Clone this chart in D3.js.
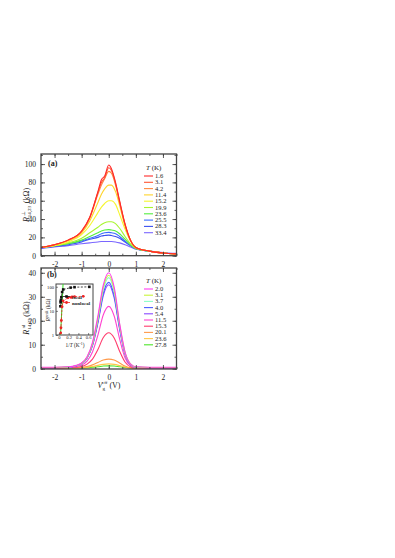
<!DOCTYPE html>
<html>
<head>
<meta charset="utf-8">
<script src="https://cdn.jsdelivr.net/npm/d3@7"></script>
<style>
  body { margin: 0; background: #fff; }
  text { font-family: "Liberation Serif", "DejaVu Serif", serif; fill: #222; }
</style>
</head>
<body>
<script>
// canvas size
var w = 395;
var h = 558;

// ---- panel (a) data: local resistance vs gate voltage ----
var vgA = [-2.5, -2, -1.5, -1, -0.7, -0.4, -0.27, -0.15, 0, 0.1, 0.25, 0.4, 0.6, 0.8, 1, 1.5, 2, 2.5];
var tempsA = ["1.6", "3.1", "4.2", "11.4", "15.2", "19.9", "23.6", "25.5", "28.3", "33.4"];
var colorsA = ["#ff2a2a", "#ff5533", "#ff8a40", "#ffd42a", "#f5f530", "#a8f530", "#55ee40", "#3a6cff", "#3a50f0", "#7a66ff"];
var rA_1_6  = [9, 12, 17, 27, 42, 70, 83, 87, 99, 95, 80, 60, 35, 17, 9, 5, 3, 2];
var rA_3_1  = [9, 12, 17, 27, 42, 69, 80, 85, 96, 93, 79, 59, 34, 17, 9, 5, 3, 2];
var rA_4_2  = [9, 12, 17, 26, 41, 67, 77, 84, 92, 90, 77, 58, 34, 17, 9, 5, 3, 2];
var rA_11_4 = [9, 12, 16, 25, 38, 58, 67, 73, 77, 77, 70, 55, 32, 17, 9, 5, 3, 2];
var rA_15_2 = [9, 11, 15, 23, 33, 47, 53, 57, 60, 60, 56, 45, 29, 16, 9, 5, 3, 2];
var rA_19_9 = [9, 11, 14, 19, 25, 31, 34, 36, 37, 37, 35, 30, 21, 13, 8, 5, 3, 2];
var rA_23_6 = [9, 11, 13, 17, 21, 25, 27, 28, 28.5, 28, 27, 24, 18, 12, 8, 5, 3, 2];
var rA_25_5 = [8.5, 10.5, 13, 16, 19, 22, 24, 25, 25.5, 25, 24, 21, 16, 11, 8, 5, 3, 2];
var rA_28_3 = [8.5, 10, 12, 15, 18, 20, 21.5, 22, 22.5, 22, 21, 19, 15, 11, 7.5, 5, 3, 2];
var rA_33_4 = [8, 9.5, 11, 13, 14, 15, 15.5, 15.5, 15.5, 15.5, 15, 14, 12, 9.5, 7, 5, 3.5, 2.5];
var seriesA = [rA_1_6, rA_3_1, rA_4_2, rA_11_4, rA_15_2, rA_19_9, rA_23_6, rA_25_5, rA_28_3, rA_33_4];

// ---- panel (b) data: nonlocal resistance vs gate voltage ----
var vgB = [-2.5, -2, -1.5, -1.2, -1, -0.8, -0.6, -0.4, -0.2, 0, 0.2, 0.4, 0.6, 0.8, 1, 1.5, 2, 2.5];
var tempsB = ["2.0", "3.1", "3.7", "4.0", "5.4", "11.5", "15.3", "20.1", "23.6", "27.8"];
var colorsB = ["#ff3cf0", "#c8f53a", "#8cffc8", "#4a5cff", "#8a48ff", "#ff44d0", "#ff3c6e", "#ff9a4a", "#ffc84a", "#4ee62a"];
var rB_2_0  = [0.6, 0.6, 0.8, 1.4, 2.4, 5, 11, 22, 35, 40, 34, 19, 7, 2, 0.8, 0.6, 0.6, 0.6];
var rB_3_1  = [0.5, 0.5, 0.7, 1.3, 2.3, 4.8, 10.5, 21, 34, 39, 33, 18.5, 6.8, 2, 0.7, 0.5, 0.5, 0.5];
var rB_3_7  = [0.5, 0.5, 0.7, 1.3, 2.2, 4.7, 10.3, 20.5, 33, 38, 32, 18, 6.6, 1.9, 0.7, 0.5, 0.5, 0.5];
var rB_4_0  = [0.4, 0.4, 0.6, 1.2, 2.1, 4.5, 9.8, 19.5, 31.5, 36, 30.5, 17, 6.3, 1.8, 0.6, 0.4, 0.4, 0.4];
var rB_5_4  = [0.4, 0.4, 0.6, 1.2, 2, 4.4, 9.5, 19, 30.5, 35, 29.5, 16.5, 6.1, 1.7, 0.6, 0.4, 0.4, 0.4];
var rB_11_5 = [0.3, 0.3, 0.5, 0.9, 1.5, 3.2, 7, 14, 22.5, 26, 22, 12.5, 4.6, 1.3, 0.4, 0.3, 0.3, 0.3];
var rB_15_3 = [0.3, 0.3, 0.4, 0.6, 0.9, 1.9, 4, 8, 13, 15, 12.8, 7.3, 2.8, 0.8, 0.3, 0.3, 0.3, 0.3];
var rB_20_1 = [0.3, 0.3, 0.3, 0.4, 0.5, 0.9, 1.6, 2.6, 3.6, 4, 3.6, 2.4, 1.1, 0.4, 0.3, 0.3, 0.3, 0.3];
var rB_23_6 = [0.2, 0.2, 0.3, 0.3, 0.4, 0.6, 0.9, 1.4, 1.8, 2, 1.8, 1.3, 0.7, 0.3, 0.2, 0.2, 0.2, 0.2];
var rB_27_8 = [0.2, 0.2, 0.2, 0.3, 0.3, 0.4, 0.6, 0.8, 1.1, 1.2, 1.1, 0.8, 0.5, 0.3, 0.2, 0.2, 0.2, 0.2];
var seriesB = [rB_2_0, rB_3_1, rB_3_7, rB_4_0, rB_5_4, rB_11_5, rB_15_3, rB_20_1, rB_23_6, rB_27_8];

// ---- inset data: peak resistance vs 1/T (log scale) ----
var localInvT = [0.030, 0.035, 0.039, 0.042, 0.050, 0.066, 0.088, 0.24, 0.32, 0.625];
var localR = [15.5, 22.5, 25.5, 28.5, 37, 60, 77, 92, 96, 99];
var nonlocalInvT = [0.036, 0.042, 0.050, 0.065, 0.087, 0.185, 0.25, 0.27, 0.32, 0.50];
var nonlocalR = [1.2, 2, 4, 15, 26, 35, 36, 38, 39, 40];
var fitInvT = [0.034, 0.085];
var fitR = [1, 130];

// axis tick values
var xTicks = [-2, -1, 0, 1, 2];
var yTicksA = [0, 20, 40, 60, 80, 100];
var yTicksB = [0, 10, 20, 30, 40];

// frame positions (magic numbers)
var frameLeft = 41;
var frameRight = 176.5;
var aTop = 154, aBottom = 255.7;
var bTop = 268, bBottom = 369;

var svg = d3.select("body").append("svg")
    .attr("width", w)
    .attr("height", h);

var x = d3.scaleLinear().domain([-2.5, 2.5]).range([frameLeft, frameRight]);
var yA = d3.scaleLinear().domain([0, 111]).range([aBottom, aTop]);
var yB = d3.scaleLinear().domain([-0.12, 42]).range([bBottom, bTop]);

// draws the frame, ticks on all sides, labels
function drawFrame(y, top, bottom, yTicks, yMinor) {
    var g = svg.append("g");
    // minor ticks
    g.append("g").attr("transform", "translate(0," + bottom + ")")
        .call(d3.axisBottom(x).tickValues(d3.range(-2.5, 2.51, 0.5)).tickSize(-2).tickFormat(""));
    g.append("g").attr("transform", "translate(0," + top + ")")
        .call(d3.axisTop(x).tickValues(d3.range(-2.5, 2.51, 0.5)).tickSize(-2).tickFormat(""));
    g.append("g").attr("transform", "translate(" + frameLeft + ",0)")
        .call(d3.axisLeft(y).tickValues(yMinor).tickSize(-2).tickFormat(""));
    g.append("g").attr("transform", "translate(" + frameRight + ",0)")
        .call(d3.axisRight(y).tickValues(yMinor).tickSize(-2).tickFormat(""));
    // major ticks
    g.append("g").attr("class", "xax").attr("transform", "translate(0," + bottom + ")")
        .call(d3.axisBottom(x).tickValues(xTicks).tickSize(-4).tickPadding(6)
            .tickFormat(function(d) { return d < 0 ? "-" + (-d) : d; }));
    g.append("g").attr("transform", "translate(0," + top + ")")
        .call(d3.axisTop(x).tickValues(xTicks).tickSize(-4).tickFormat(""));
    g.append("g").attr("class", "yax").attr("transform", "translate(" + frameLeft + ",0)")
        .call(d3.axisLeft(y).tickValues(yTicks).tickSize(-4).tickPadding(5));
    g.append("g").attr("transform", "translate(" + frameRight + ",0)")
        .call(d3.axisRight(y).tickValues(yTicks).tickSize(-4).tickFormat(""));
    g.selectAll(".domain").remove();
    g.selectAll("line").attr("stroke", "#333").attr("stroke-width", 0.8);
    g.selectAll("text").attr("font-size", 7.5).attr("font-family", "Liberation Serif").style("fill", "#222");
    // outer box
    svg.append("rect")
        .attr("x", frameLeft).attr("y", top)
        .attr("width", frameRight - frameLeft).attr("height", bottom - top)
        .attr("fill", "none").attr("stroke", "#444").attr("stroke-width", 1.3);
}

// clip paths so curves stay inside frames
var defs = svg.append("defs");
defs.append("clipPath").attr("id", "clipA").append("rect")
    .attr("x", frameLeft).attr("y", aTop).attr("width", frameRight - frameLeft).attr("height", aBottom - aTop);
defs.append("clipPath").attr("id", "clipB").append("rect")
    .attr("x", frameLeft).attr("y", bTop).attr("width", frameRight - frameLeft).attr("height", bBottom - bTop);

// panel (a) curves, highest T drawn first
var lineA = d3.line().curve(d3.curveMonotoneX)
    .x(function(d, i) { return x(vgA[i]); })
    .y(function(d) { return yA(d); });
svg.append("g").attr("clip-path", "url(#clipA)")
    .selectAll("path")
    .data(seriesA.slice().reverse())
    .enter()
    .append("path")
    .attr("d", lineA)
    .attr("fill", "none")
    .attr("stroke-width", 1.1)
    .attr("stroke", function(d, i) { return colorsA[colorsA.length - 1 - i]; });

var lineB = d3.line().curve(d3.curveMonotoneX)
    .x(function(d, i) { return x(vgB[i]); })
    .y(function(d) { return yB(d); });
svg.append("g").attr("clip-path", "url(#clipB)")
    .selectAll("path")
    .data(seriesB.slice().reverse())
    .enter()
    .append("path")
    .attr("d", lineB)
    .attr("fill", "none")
    .attr("stroke-width", 1.1)
    .attr("stroke", function(d, i) { return colorsB[colorsB.length - 1 - i]; });

drawFrame(yA, aTop, aBottom, yTicksA, d3.range(0, 111, 10));
drawFrame(yB, bTop, bBottom, yTicksB, d3.range(0, 42, 5));

// panel tags
svg.append("text").attr("x", 48).attr("y", 166).attr("font-size", 8).attr("font-weight", "bold").text("(a)");
svg.append("text").attr("x", 47).attr("y", 277).attr("font-size", 8).attr("font-weight", "bold").text("(b)");

// legends
function drawLegend(temps, colors, top, step) {
    var lg = svg.append("g");
    var t = lg.append("text").attr("x", 146).attr("y", top).attr("font-size", 7);
    t.append("tspan").attr("font-style", "italic").text("T");
    t.append("tspan").text(" (K)");
    var rows = lg.selectAll("g.row").data(temps).enter().append("g")
        .attr("transform", function(d, i) { return "translate(0," + (top + 8 + i * step) + ")"; });
    rows.append("line").attr("x1", 144).attr("x2", 153).attr("y1", -2).attr("y2", -2)
        .attr("stroke-width", 1.1)
        .attr("stroke", function(d, i) { return colors[i]; });
    rows.append("text").attr("x", 155).attr("y", 0).attr("font-size", 6.5).text(function(d) { return d; });
}
drawLegend(tempsA, colorsA, 170, 6.3);
drawLegend(tempsB, colorsB, 283, 6.2);

// axis titles
function yTitle(cx, cy, sub, sup) {
    var t = svg.append("text")
        .attr("transform", "translate(" + cx + "," + cy + ") rotate(-90)")
        .attr("text-anchor", "middle").attr("font-size", 8);
    t.append("tspan").attr("font-style", "italic").text("R");
    t.append("tspan").attr("font-size", 5).attr("dy", 2).text(sub);
    t.append("tspan").attr("font-size", 5).attr("dx", -10).attr("dy", -6).text(sup);
    t.append("tspan").attr("dy", 4).attr("dx", 6).text(" (kΩ)");
}
yTitle(29, 205, "14,23", "⊥");
yTitle(29, 318, "14,23", "nl");

var xt = svg.append("text").attr("x", 109).attr("y", 388).attr("text-anchor", "middle").attr("font-size", 8);
xt.append("tspan").attr("font-style", "italic").text("V");
xt.append("tspan").attr("font-size", 5).attr("dy", 2).text("g");
xt.append("tspan").attr("font-size", 5).attr("dx", -3).attr("dy", -6).text("eff");
xt.append("tspan").attr("dy", 4).text(" (V)");

// ---- inset ----
var inL = 56, inR = 93, inT = 284, inB = 335;
var xi = d3.scaleLinear().domain([-0.06, 0.7]).range([inL, inR]);
var yi = d3.scaleLog().domain([1, 130]).range([inB, inT]);

svg.append("rect").attr("x", inL).attr("y", inT).attr("width", inR - inL).attr("height", inB - inT)
    .attr("fill", "#fff").attr("stroke", "#444").attr("stroke-width", 1);

defs.append("clipPath").attr("id", "clipI").append("rect")
    .attr("x", inL).attr("y", inT).attr("width", inR - inL).attr("height", inB - inT);
var ig = svg.append("g").attr("clip-path", "url(#clipI)");

// fit line
ig.append("path")
    .datum(fitInvT.map(function(d, i) { return [d, fitR[i]]; }))
    .attr("d", d3.line().x(function(d) { return xi(d[0]); }).y(function(d) { return yi(d[1]); }))
    .attr("stroke", "#33dd22").attr("stroke-width", 1).attr("fill", "none");

var localPts = localInvT.map(function(d, i) { return [d, localR[i]]; });
var nonlocalPts = nonlocalInvT.map(function(d, i) { return [d, nonlocalR[i]]; });
var iline = d3.line().x(function(d) { return xi(d[0]); }).y(function(d) { return yi(d[1]); });

ig.append("path").datum(localPts).attr("d", iline)
    .attr("stroke", "#111").attr("stroke-width", 0.8).attr("stroke-dasharray", "2,1.5").attr("fill", "none");
ig.append("path").datum(nonlocalPts).attr("d", iline)
    .attr("stroke", "#ee2222").attr("stroke-width", 0.8).attr("stroke-dasharray", "2,1.5").attr("fill", "none");
ig.selectAll("rect.loc").data(localPts).enter().append("rect").attr("class", "loc")
    .attr("x", function(d) { return xi(d[0]) - 1.3; })
    .attr("y", function(d) { return yi(d[1]) - 1.3; })
    .attr("width", 2.6).attr("height", 2.6).attr("fill", "#111");
ig.selectAll("circle.nl").data(nonlocalPts).enter().append("circle").attr("class", "nl")
    .attr("cx", function(d) { return xi(d[0]); })
    .attr("cy", function(d) { return yi(d[1]); })
    .attr("r", 1.4).attr("fill", "#ee2222");

// inset axes
var ia = svg.append("g");
ia.append("g").attr("transform", "translate(0," + inB + ")")
    .call(d3.axisBottom(xi).tickValues([0, 0.2, 0.4, 0.6]).tickSize(-2).tickPadding(1)
        .tickFormat(function(d) { return d === 0 ? "0" : d3.format(".1f")(d); }));
ia.append("g").attr("transform", "translate(" + inL + ",0)")
    .call(d3.axisLeft(yi).tickValues([1, 10, 100]).tickSize(-2).tickPadding(2).tickFormat(d3.format("d")));
ia.selectAll(".domain").remove();
ia.selectAll("line").attr("stroke", "#333").attr("stroke-width", 0.6);
ia.selectAll("text").attr("font-size", 4.6).attr("font-family", "Liberation Serif").style("fill", "#222");

var ixt = svg.append("text").attr("x", 75).attr("y", 346.5).attr("text-anchor", "middle").attr("font-size", 5.3);
ixt.append("tspan").text("1/");
ixt.append("tspan").attr("font-style", "italic").text("T");
ixt.append("tspan").text(" (K");
ixt.append("tspan").attr("font-size", 3.8).attr("dy", -1.8).text("-1");
ixt.append("tspan").attr("dy", 1.8).text(")");

var iyt = svg.append("text").attr("transform", "translate(50,310) rotate(-90)")
    .attr("text-anchor", "middle").attr("font-size", 5.5);
iyt.append("tspan").attr("font-style", "italic").text("R");
iyt.append("tspan").attr("font-size", 4).attr("dy", -2).text("peak");
iyt.append("tspan").attr("dy", 2).text(" (kΩ)");

// inset legend
svg.append("line").attr("x1", 63).attr("x2", 70).attr("y1", 296.5).attr("y2", 296.5)
    .attr("stroke", "#111").attr("stroke-width", 0.8);
svg.append("rect").attr("x", 65.2).attr("y", 295.2).attr("width", 2.6).attr("height", 2.6).attr("fill", "#111");
svg.append("text").attr("x", 72).attr("y", 298.5).attr("font-size", 5).attr("font-weight", "bold").text("local");
svg.append("line").attr("x1", 63).attr("x2", 70).attr("y1", 302.5).attr("y2", 302.5)
    .attr("stroke", "#ee2222").attr("stroke-width", 0.8);
svg.append("circle").attr("cx", 66.5).attr("cy", 302.5).attr("r", 1.4).attr("fill", "#ee2222");
svg.append("text").attr("x", 72).attr("y", 304.5).attr("font-size", 5).attr("font-weight", "bold").text("nonlocal");
</script>
</body>
</html>
